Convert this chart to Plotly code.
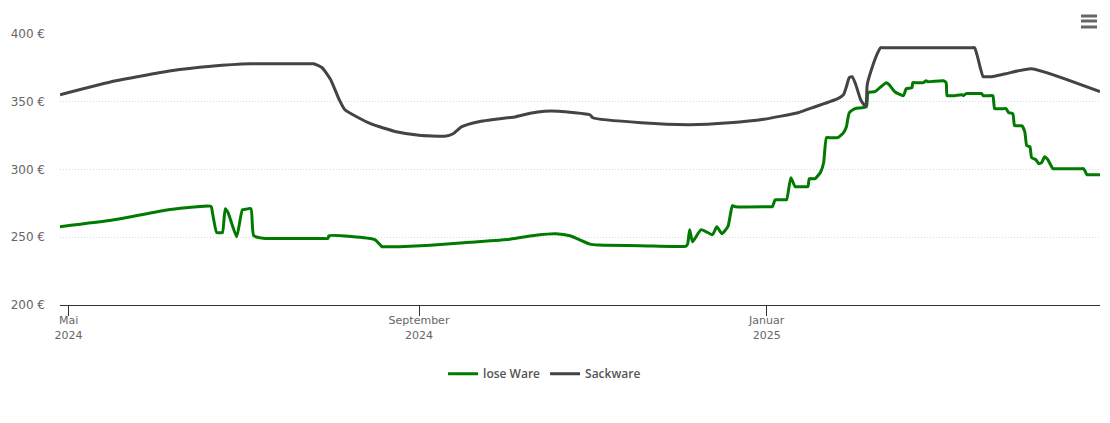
import pandas as pd
import plotly.graph_objects as go

start = pd.Timestamp("2024-05-01")

# days since 1 May 2024, prices in euro
lose_days = [-3, 16, 35, 44, 50, 50.5, 52, 53, 54, 55, 56, 59, 61, 62, 64, 65, 69, 71, 89, 91, 91.4, 107.5, 110, 111, 115, 116,
             127, 141, 155, 164, 171, 176, 183, 186, 200.5, 216, 216.7, 217.3, 218, 219, 222, 226, 227.5,
             229.3, 231.4, 233, 234, 246, 247, 248, 249, 251, 252, 253.5, 255, 256, 258.5, 259.5, 260, 262, 264, 265, 266, 267, 269, 270, 272,
             273, 274, 276, 280, 280.6, 283, 287, 288, 290, 293, 294, 296, 296.3, 297, 299, 300, 301, 301.5,
             307, 308, 308.3, 309, 310, 311, 313.5, 314, 315, 316, 319.5, 320.5, 321, 322, 323.4, 324.4, 325, 326, 328, 329, 330, 331.4, 332,
             333, 334, 334.6, 335.6, 336.3, 337.4, 338, 339.5, 340.5, 341.5, 342.6, 343.7, 345.5, 346.5, 355.3, 356.3, 357.4, 358.4, 362]
lose_price = [257.8, 262.9, 270.3, 272.3, 272.8, 268.1, 253.4, 253.4, 253.4, 271.1, 268.1, 250.4, 270.3, 270.6, 271.1, 251.1, 249.1, 249.1, 249.1, 249.1, 251.1, 248.2, 243, 243, 243, 243,
              244.1, 246.3, 248.6, 251.5, 252.6, 251.1, 244.9, 244.2, 243.8, 243.2, 243.4, 245.2, 255.6, 246.7, 255.6, 251.9, 257.8,
              252.6, 257.8, 273.3, 272.5, 272.5, 272.5, 277.7, 277.7, 277.7, 277.7, 294, 287.3, 287.3, 287.3, 287.3, 293.2, 293.2, 298.4, 305, 323.5, 323.5, 323.5, 323.5, 327.2,
              331.6, 341.9, 344.9, 346.3, 356.7, 357.4, 364.1, 362.6, 357.4, 354.5, 359.6, 360.4, 364.1, 364.1, 364.1, 364.1, 365.5, 364.8,
              365.5, 364.1, 354.5, 354.5, 354.5, 354.5, 355.2, 354.5, 356, 356, 356, 356, 354.5, 354.5, 354.5, 354.5, 344.9, 344.9, 344.9, 344.9, 341.9, 341.2, 332.3,
              332.3, 332.3, 332.3, 327.9, 317.6, 316.8, 308.7, 307.2, 304.3, 305, 309.4, 307.2, 300.6, 300.6, 300.6, 300.6, 296.2, 296.2, 296.2]

sack_days = [-3, 15, 36, 50, 64, 66, 84, 86, 89, 92, 95, 97, 106, 115, 123, 132, 135, 138, 144, 157, 162, 167,
             172, 183, 184, 201, 218, 232, 244, 256, 262, 270, 272, 273, 274, 275, 276.3, 278, 279.8,
             280.3, 282, 284, 285, 286, 317, 318, 319, 321, 322, 323, 324, 329, 338, 362]
sack_price = [355.2, 364.8, 372.9, 376.2, 378, 378, 378, 378, 375.1, 366.3, 351.5, 344.1, 333.8, 327.9, 325.3, 324.6, 326.4, 331.6, 335.3, 339, 341.5, 343,
              343, 340.4, 338.2, 334.5, 333.1, 334.5, 337.1, 341.9, 346.3, 352.3, 355.2, 361.1, 367.8, 368.5, 362.6, 351.5, 346.3,
              362.6, 375.1, 386.2, 389.9, 389.9, 389.9, 389.9, 383.3, 368.5, 368.5, 368.5, 368.5, 370.7, 374.4, 357.4]

tick_dates = ["2024-05-01", "2024-09-01", "2025-01-01"]
tick_labels = ["Mai<br>2024", "September<br>2024", "Januar<br>2025"]
y_ticks = [200, 250, 300, 350, 400]
y_labels = ["200 €", "250 €", "300 €", "350 €", "400 €"]


def to_dates(days):
    return start + pd.to_timedelta(days, unit="D")


fig = go.Figure()
fig.add_trace(go.Scatter(x=to_dates(lose_days), y=lose_price, name="lose Ware", mode="lines",
                         line=dict(color="#007a00", width=3, shape="spline", smoothing=0.5)))
fig.add_trace(go.Scatter(x=to_dates(sack_days), y=sack_price, name="Sackware", mode="lines",
                         line=dict(color="#434348", width=3, shape="spline", smoothing=0.5)))

fig.update_layout(
    width=1110, height=423,
    margin=dict(l=60, r=10, t=34, b=118),
    paper_bgcolor="white", plot_bgcolor="white",
    font=dict(family="DejaVu Sans", size=11, color="#666666"),
    legend=dict(orientation="h", x=0.4659, xanchor="center", y=-0.2, yanchor="top",
                font=dict(family="Open Sans", size=12, color="#555555", weight=600)),
)
fig.update_xaxes(range=[to_dates([-3])[0], to_dates([362])[0]], tickvals=tick_dates, ticktext=tick_labels,
                 ticks="outside", ticklen=10, tickcolor="#333333", showline=True, linecolor="#333333",
                 showgrid=False, tickangle=0, ticklabelstandoff=-5)
fig.update_yaxes(range=[200, 400], tickvals=y_ticks, ticktext=y_labels, showgrid=True,
                 gridcolor="#d8d8d8", griddash="1px,2px", gridwidth=1, zeroline=False, ticks="",
                 showline=False, ticklabelstandoff=14, tickfont=dict(size=12))

# export menu icon
for top in (16, 21, 27):
    fig.add_shape(type="line", xref="paper", yref="paper", x0=0.9817, x1=0.9971, y0=1 + (34 - top) / 271,
                  y1=1 + (34 - top) / 271, line=dict(color="#666666", width=3))

fig.write_html("out.html", config=dict(displayModeBar=False),
               post_script="document.body.style.margin='0';")
